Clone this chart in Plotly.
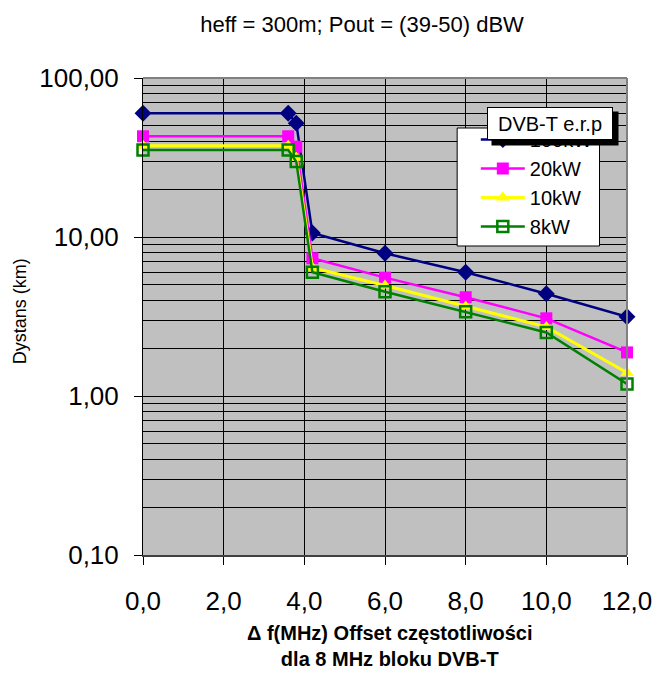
import plotly.graph_objects as go

# Frequency offset (MHz) of the interfering channel
offset_mhz = [0.0, 3.6, 3.8, 4.2, 6.0, 8.0, 10.0, 12.0]

# Protection distance (km) for each transmitter e.r.p.
dist_100kw = [60.0, 60.0, 52.0, 10.6, 7.9, 6.0, 4.4, 3.15]
dist_20kw = [43.0, 43.0, 37.0, 7.35, 5.55, 4.18, 3.08, 1.88]
dist_10kw = [37.5, 37.5, 31.5, 6.4, 4.95, 3.65, 2.72, 1.40]
dist_8kw = [35.2, 35.2, 29.8, 6.0, 4.53, 3.39, 2.51, 1.19]

series_names = ["100kW", "20kW", "10kW", "8kW"]
x_ticks = [0, 2, 4, 6, 8, 10, 12]
y_ticks = [0.1, 1, 10, 100]
y_minor = [m * 10.0 ** e for e in (-1, 0, 1) for m in range(2, 10)]

FONT = "Arial, Liberation Sans, sans-serif"
W, H = 664, 674
L, R, T, B = 143, 28, 78, 119
PW, PH = W - L - R, H - T - B


def px_x(p):
    return (p - L) / PW


def px_y(p):
    return (H - B - p) / PH


styles = [
    dict(color="#000080", symbol="diamond", size=13, lw=2.5),
    dict(color="#FF00FF", symbol="square", size=12, lw=2.5),
    dict(color="#FFFF00", symbol="triangle-up", size=12, lw=3),
    dict(color="#008000", symbol="square-open", size=11, lw=2.5),
]
all_series = [dist_100kw, dist_20kw, dist_10kw, dist_8kw]

fig = go.Figure()
for name, ys, st in zip(series_names, all_series, styles):
    marker = dict(symbol=st["symbol"], size=st["size"], color=st["color"])
    if st["symbol"] == "square-open":
        marker["line"] = dict(width=2.5, color=st["color"])
    fig.add_trace(go.Scatter(
        x=offset_mhz, y=ys, name=name, mode="lines+markers",
        line=dict(color=st["color"], width=st["lw"]),
        marker=marker, cliponaxis=False,
    ))

fig.update_layout(
    width=W, height=H,
    margin=dict(l=L, r=R, t=T, b=B, pad=0),
    paper_bgcolor="white",
    plot_bgcolor="#C0C0C0",
    separators=", ",
    font=dict(family=FONT, color="black"),
    showlegend=True,
    legend=dict(
        x=px_x(482), y=px_y(120), xanchor="left", yanchor="top",
        bgcolor="rgba(0,0,0,0)", borderwidth=0,
        font=dict(size=20, family=FONT),
        itemwidth=44, tracegroupgap=0,
    ),
    title=dict(
        text="heff = 300m; Pout = (39-50) dBW",
        x=362 / W, xanchor="center", y=1 - 24 / H, yanchor="middle",
        font=dict(size=22, family=FONT),
    ),
)

fig.update_xaxes(
    range=[0, 12], tickvals=x_ticks, tickformat=".1f",
    showgrid=True, gridcolor="black", gridwidth=1,
    ticks="outside", ticklen=8, tickcolor="black", tickwidth=1,
    ticklabelstandoff=14,
    tickfont=dict(size=26, family=FONT),
    showline=True, linecolor="#404040", linewidth=2,
    zeroline=False,
)
fig.update_yaxes(
    type="log", range=[-1, 2], tickvals=y_ticks, tickformat=".2f",
    showgrid=True, gridcolor="black", gridwidth=1,
    ticks="outside", ticklen=8, tickcolor="black", tickwidth=1,
    ticklabelstandoff=10,
    tickfont=dict(size=26, family=FONT),
    showline=True, linecolor="black", linewidth=1,
    minor=dict(tickvals=y_minor, showgrid=True, gridcolor="black", gridwidth=1, ticks=""),
    zeroline=False,
)

# Gray frame on the top and right edges of the plot area
fig.add_shape(type="line", xref="paper", yref="paper", x0=0, x1=1, y0=1, y1=1,
              line=dict(color="#808080", width=2), layer="above")
fig.add_shape(type="line", xref="paper", yref="paper", x0=1, x1=1, y0=0, y1=1,
              line=dict(color="#808080", width=2), layer="above")

# White legend panel
fig.add_shape(type="rect", xref="paper", yref="paper",
              x0=px_x(463), x1=px_x(608), y0=px_y(246), y1=px_y(128),
              fillcolor="white", line=dict(color="black", width=1), layer="above")

# Axis titles
fig.add_annotation(
    text="Dystans (km)", xref="paper", yref="paper",
    x=px_x(18), y=px_y(311), xanchor="center", yanchor="middle",
    textangle=-90, showarrow=False,
    font=dict(size=18, family=FONT),
)
fig.add_annotation(
    text="<b>\u0394 f(MHz) Offset cz\u0119stotliwo\u015bci<br>dla 8 MHz bloku DVB-T</b>",
    xref="paper", yref="paper", x=px_x(395), y=px_y(646),
    xanchor="center", yanchor="middle", showarrow=False,
    font=dict(size=20, family=FONT), align="center",
)

# Legend title box with drop shadow
fig.add_annotation(
    text=" ", xref="paper", yref="paper", x=px_x(497), y=px_y(111),
    xanchor="left", yanchor="top", width=124, height=31,
    bgcolor="black", showarrow=False, font=dict(size=20),
)
fig.add_annotation(
    text="DVB-T e.r.p", xref="paper", yref="paper", x=px_x(493), y=px_y(107),
    xanchor="left", yanchor="top", width=124, height=31,
    bgcolor="white", bordercolor="black", borderwidth=1, borderpad=0,
    showarrow=False, font=dict(size=20, family=FONT),
)

fig.write_html("out.html")
